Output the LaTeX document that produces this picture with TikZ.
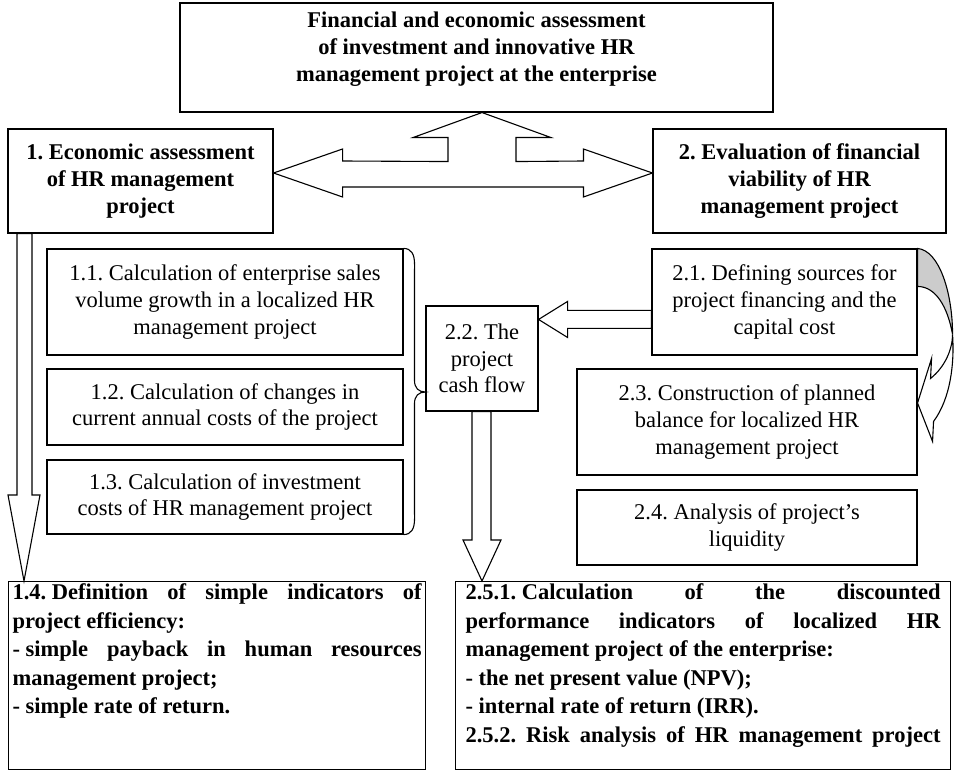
\documentclass[tikz,border=0pt]{standalone}
\usepackage{fontspec}
\setmainfont{Liberation Serif}
\usetikzlibrary{calc}
\begin{document}
\frenchspacing
\begin{tikzpicture}[x=1pt,y=-1pt,line width=1.1pt,line join=miter,
  box/.style={draw,fill=white,align=center,inner sep=1pt,font=\fontsize{22.5}{26.7}\selectfont},
  hbox/.style={box,font=\fontsize{22.5}{26.7}\selectfont\bfseries},
  bigbox/.style={draw,fill=white,anchor=north west,inner ysep=2pt,font=\fontsize{22.5}{28.6}\selectfont\bfseries},
  blk/.style={draw,fill=white},
  fold/.style={draw,fill=gray!40}]
\useasboundingbox (0,0) rectangle (954,770);
% boxes
\node[draw,fill=white,inner sep=6pt,font=\fontsize{22.5}{26.7}\selectfont\bfseries] (top) at (476.5,57.5)
  {\parbox[c][97pt][t]{581pt}{\centering\strut Financial and economic assessment\\of investment and innovative HR\\management project at the enterprise}};
\node[hbox,minimum width=265pt,minimum height=104pt] (b1) at (140.5,181) {1.\ Economic assessment\\of HR management\\project};
\node[hbox,minimum width=293pt,minimum height=104pt] (b2) at (799.5,181) {2.\ Evaluation of financial\\viability of HR\\management project};
\node[box,minimum width=356pt,minimum height=106pt] (b11) at (225,302) {1.1. Calculation of enterprise sales\\volume growth in a localized HR\\management project};
\node[box,minimum width=356pt,minimum height=76pt] (b12) at (225,407) {1.2. Calculation of changes in\\current annual costs of the project};
\node[box,minimum width=356pt,minimum height=74pt] (b13) at (225,497) {1.3. Calculation of investment\\costs of HR management project};
\node[box,minimum width=112pt,minimum height=105pt] (b22) at (482,358.5) {2.2. The\\project\\cash flow};
\node[box,minimum width=265pt,minimum height=106pt] (b21) at (784.5,302) {2.1. Defining sources for\\project financing and the\\capital cost};
\node[box,minimum width=340pt,minimum height=106pt] (b23) at (747,422) {2.3. Construction of planned\\balance for localized HR\\management project};
\node[box,minimum width=340pt,minimum height=75pt] (b24) at (747,527.5) {2.4. Analysis of project's\\liquidity};
\node[bigbox,inner xsep=4pt] (b14) at (8,581) {\parbox[c][184pt][t]{409pt}{\rule{0pt}{16pt}\hbox to 409pt{1.4. Definition\hfill of\hfill simple\hfill indicators\hfill of}\\
project efficiency:\\
\hbox to 409pt{- simple\hfill payback\hfill in\hfill human\hfill resources}\\
management project;\\
- simple rate of return.}};
\node[bigbox,inner xsep=10pt] (b25) at (455,581) {\parbox[c][184pt][t]{475pt}{\rule{0pt}{16pt}\hbox to 475pt{2.5.1. Calculation\hfill of\hfill the\hfill discounted}\\
\hbox to 475pt{performance\hfill indicators\hfill of\hfill localized\hfill HR}\\
management project of the enterprise:\\
- the net present value (NPV);\\
- internal rate of return (IRR).\\
\hbox to 475pt{2.5.2.\hfill Risk\hfill analysis\hfill of\hfill HR\hfill management\hfill project}}};
% three-way arrow
\coordinate (L) at ($(b1.east)+(0,-8)$);
\coordinate (R) at ($(b2.west)+(0,-8)$);
\coordinate (U) at ($(top.south)+(5.5,0)$);
\draw[blk] (L) -- ($(L)+(69,-24)$) -- ($(L)+(69,-12)$) -- ($(U)+(-34,49)$) -- ($(U)+(-34,25)$) -- ($(U)+(-69,25)$) -- (U)
  -- ($(U)+(69,25)$) -- ($(U)+(34,25)$) -- ($(U)+(34,49)$) -- ($(R)+(-69,-12)$) -- ($(R)+(-69,-24)$) -- (R)
  -- ($(R)+(-69,24)$) -- ($(R)+(-69,14)$) -- ($(L)+(69,14)$) -- ($(L)+(69,24)$) -- cycle;
% left down arrow
\coordinate (tL) at ($(b14.north west)+(16,0)$);
\coordinate (tL1) at ($(tL)+(-7,0)$);
\coordinate (tL2) at ($(tL)+(8,0)$);
\draw[blk] (tL) -- ($(tL)+(-16,-86)$) -- ($(tL)+(-7,-86)$) -- (tL1 |- b1.south) -- (tL2 |- b1.south)
  -- ($(tL)+(8,-86)$) -- ($(tL)+(16,-86)$) -- cycle;
% middle down arrow
\coordinate (tM) at (b22.south |- b25.north);
\coordinate (tM1) at ($(tM)+(-10,0)$);
\coordinate (tM2) at ($(tM)+(9,0)$);
\draw[blk] (tM) -- ($(tM)+(-19,-41)$) -- ($(tM)+(-10,-41)$) -- (tM1 |- b22.south) -- (tM2 |- b22.south)
  -- ($(tM)+(9,-41)$) -- ($(tM)+(19,-41)$) -- cycle;
% arrow 2.1 -> 2.2
\coordinate (tA) at ($(b22.north east)+(0,14)$);
\coordinate (tA1) at ($(tA)+(0,-9)$);
\coordinate (tA2) at ($(tA)+(0,9)$);
\draw[blk] (tA) -- ($(tA)+(29,-18)$) -- ($(tA)+(29,-9)$) -- (tA1 -| b21.west) -- (tA2 -| b21.west)
  -- ($(tA)+(29,9)$) -- ($(tA)+(29,18)$) -- cycle;
% brace
\coordinate (bt) at ($(b22.west)+(0,33.5)$);
\draw (b11.north east) .. controls ($(b11.north east)+(8,0)$) and ($(b11.north east)+(11,6)$) .. ($(b11.north east)+(11,16)$)
  -- ($(bt)+(-11,-12)$) .. controls ($(bt)+(-11,-4)$) and ($(bt)+(-7,0)$) .. (bt)
  .. controls ($(bt)+(-7,0)$) and ($(bt)+(-11,4)$) .. ($(bt)+(-11,12)$)
  -- ($(b13.south east)+(11,-16)$) .. controls ($(b13.south east)+(11,-6)$) and ($(b13.south east)+(8,0)$) .. (b13.south east);
% curved arrow 2.1 -> 2.3
\coordinate (ca) at (b21.north east);
\coordinate (tC) at ($(b23.east)+(0,-19)$);
\draw[fold] (ca) .. controls ($(ca)+(22,2)$) and ($(ca)+(35,45)$) .. ($(ca)+(35,86)$)
  .. controls ($(ca)+(30,58)$) and ($(ca)+(18,38)$) .. ($(ca)+(0,38)$) -- cycle;
\draw[blk] ($(ca)+(35,86)$) .. controls ($(ca)+(37,115)$) and ($(ca)+(33,150)$) .. ($(ca)+(16,173)$)
  -- ($(ca)+(15,193)$) -- (tC) -- ($(ca)+(14,110)$) -- ($(ca)+(13,130)$)
  .. controls ($(ca)+(28,118)$) and ($(ca)+(35,100)$) .. ($(ca)+(35,86)$) -- cycle;
\end{tikzpicture}
\end{document}
